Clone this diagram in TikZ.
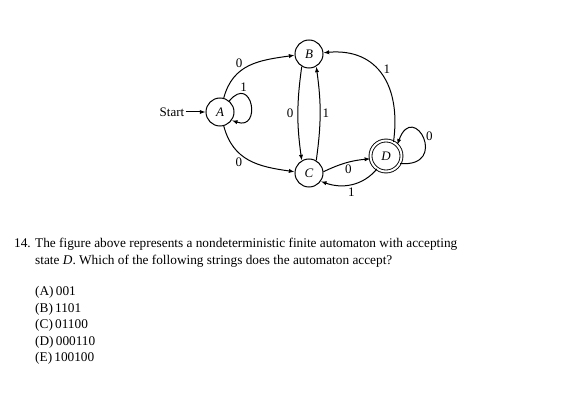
\documentclass[tikz,border=0pt]{standalone}
\usepackage{fontspec}
\setmainfont{Liberation Serif}
\usetikzlibrary{arrows.meta,positioning}

\begin{document}
\begin{tikzpicture}[
    x=1pt, y=1pt,
    state/.style={circle, draw, line width=1pt, minimum size=28pt, inner sep=0pt, font=\fontsize{13}{15}\selectfont\itshape},
    accept/.style={state, double, double distance=2pt, line width=0.9pt, minimum size=31pt},
    arrow/.style={-{Latex[length=2mm]}, line width=1pt},
    lbl/.style={font=\fontsize{13}{15}\selectfont, inner sep=1pt},
    txt/.style={anchor=base west, font=\fontsize{13.3}{16.5}\selectfont, inner sep=0pt}
]
\useasboundingbox (0,0) rectangle (574,-409);
% states
\node[state] (A) at (220,-112) {A};
\node[state] (B) at (309,-54) {B};
\node[state] (C) at (309,-173) {C};
\node[accept] (D) at (386,-156) {D};
\node[lbl, left=20pt of A] (start) {Start};
% transitions
\draw[arrow] (start) -- (A);
\draw[arrow] (A.75) to[out=75, in=188, looseness=1.1] node[lbl, pos=0.42, above left] {0} (B.185);
\draw[arrow] (A.-75) to[out=-75, in=172, looseness=1.1] node[lbl, pos=0.42, below left] {0} (C.175);
\draw[arrow] (A.50) .. controls +(50:36) and +(-20:32) .. node[lbl, pos=0.25, above=1pt] {1} (A.-35);
\draw[arrow] (B.240) to[bend right=8] node[lbl, left=3pt] {0} (C.120);
\draw[arrow] (C.60) to[bend right=8] node[lbl, right=1pt] {1} (B.-60);
\draw[arrow] (C.5) to[bend left=10] node[lbl, pos=0.55, below=1pt] {0} (D.190);
\draw[arrow] (D.235) to[out=230, in=-20] node[lbl, pos=0.5, below=2pt] {1} (C.-35);
\draw[arrow] (D.62) to[out=82, in=5, looseness=1.25] node[lbl, pos=0.5, above right] {1} (B.5);
\draw[arrow] (D.-28) .. controls +(-5:50) and +(70:48) .. node[lbl, pos=0.45, above right] {0} (D.45);
% question
\node[txt] (num) at (14,-248) {14.};
\node[txt] (q1) at (35,-248) {The figure above represents a nondeterministic finite automaton with accepting};
\node[txt] (q2) at (35,-264.5) {state \textit{D}. Which of the following strings does the automaton accept?};
\node[txt] (oa) at (35,-296) {(A)\,001};
\node[txt] (ob) at (35,-312.5) {(B)\,1101};
\node[txt] (oc) at (35,-329) {(C)\,01100};
\node[txt] (od) at (35,-345.5) {(D)\,000110};
\node[txt] (oe) at (35,-362) {(E)\,100100};
\end{tikzpicture}
\end{document}
